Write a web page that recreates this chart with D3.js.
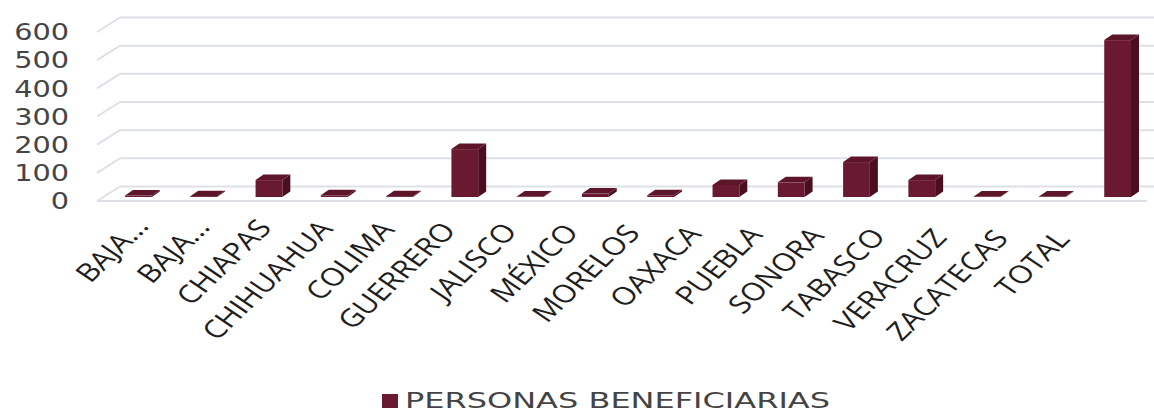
<!DOCTYPE html>
<html>
<head>
<meta charset="utf-8">
<script src="https://cdn.jsdelivr.net/npm/d3@7"></script>
<style>
  body { margin: 0; background: #fff; }
  svg { display: block; }
</style>
</head>
<body>
<div id="chart"></div>
<script>
// data
var estados = ["BAJA...", "BAJA... ", "CHIAPAS", "CHIHUAHUA", "COLIMA", "GUERRERO", "JALISCO", "MÉXICO",
               "MORELOS", "OAXACA", "PUEBLA", "SONORA", "TABASCO", "VERACRUZ", "ZACATECAS", "TOTAL"];
var beneficiarias = [5, 3, 60, 6, 3, 170, 2, 12, 6, 43, 52, 124, 60, 2, 2, 557];
var yTicks = [0, 100, 200, 300, 400, 500, 600];
var serie = "PERSONAS BENEFICIARIAS";

var W = 1154, H = 412;
var depth = [23, -14.5];     // back wall offset of the floor
var barShift = [6, -4];      // where the bars stand on the floor
var barDepth = [8, -5.5];    // thickness of each bar
var stretch = 1.25;          // the original picture is wider than tall

var svg = d3.select("#chart").append("svg")
    .attr("width", W)
    .attr("height", H);

var x = d3.scaleBand()
    .domain(estados)
    .range([97, 1147])
    .paddingInner(0.59)
    .paddingOuter(0.337);

var y = d3.scaleLinear()
    .domain([0, 600])
    .range([201, 32]);

// labels sit on a slightly different spacing (perspective)
var xLab = d3.scalePoint()
    .domain(estados)
    .range([150, 1071]);
var yLab = d3.scalePoint()
    .domain(estados)
    .range([227, 240]);

var grid = svg.append("g");

// back wall lines + left wall diagonals
yTicks.forEach(function (t) {
    grid.append("line")
        .attr("x1", 97).attr("y1", y(t))
        .attr("x2", 97 + depth[0]).attr("y2", y(t) + depth[1])
        .attr("stroke", "#dde1e7").attr("stroke-width", 2);
    grid.append("line")
        .attr("x1", 97 + depth[0]).attr("y1", y(t) + depth[1])
        .attr("x2", W).attr("y2", y(t) + depth[1])
        .attr("stroke", "#dde1e7").attr("stroke-width", 2);
});
// front floor edge
grid.append("line")
    .attr("x1", 97).attr("y1", y(0))
    .attr("x2", 1147).attr("y2", y(0))
    .attr("stroke", "#dde1e7").attr("stroke-width", 2);

// y tick labels
svg.append("g").selectAll("text")
    .data(yTicks)
    .join("text")
    .attr("transform", function (d) { return "translate(69," + y(d) + ") scale(" + stretch + ",1)"; })
    .attr("dy", "0.36em")
    .attr("text-anchor", "end")
    .attr("font-family", "DejaVu Sans")
    .attr("font-size", 23)
    .attr("fill", "#454545")
    .text(function (d) { return d; });

// bars
var bars = svg.append("g").selectAll("g")
    .data(estados)
    .join("g");

function pts(a) { return a.map(function (p) { return p.join(","); }).join(" "); }

bars.each(function (d, i) {
    var g = d3.select(this);
    var x0 = x(d) + barShift[0];
    var x1 = x0 + x.bandwidth();
    var yb = y(0) + barShift[1];
    var yt = y(beneficiarias[i]) + barShift[1];
    var dx = barDepth[0], dy = barDepth[1];
    g.append("polygon")
        .attr("points", pts([[x1, yt], [x1 + dx, yt + dy], [x1 + dx, yb + dy], [x1, yb]]))
        .attr("fill", "#4a0e1f");
    g.append("polygon")
        .attr("points", pts([[x0, yt], [x1, yt], [x1 + dx, yt + dy], [x0 + dx, yt + dy]]))
        .attr("fill", "#5c1529");
    g.append("rect")
        .attr("x", x0)
        .attr("y", yt)
        .attr("width", x.bandwidth())
        .attr("height", yb - yt)
        .attr("fill", "#6a1a30");
});

// category labels
svg.append("g").selectAll("text")
    .data(estados)
    .join("text")
    .attr("transform", function (d) {
        return "translate(" + xLab(d) + "," + yLab(d) + ") scale(" + stretch + ",1) rotate(-50)";
    })
    .attr("text-anchor", "end")
    .attr("font-family", "Open Sans")
    .attr("font-size", 25)
    .attr("fill", "#1e1e1e")
    .text(function (d) { return d.trim(); });

// legend
var leg = svg.append("g");
leg.append("rect")
    .attr("x", 382).attr("y", 394)
    .attr("width", 16).attr("height", 14)
    .attr("fill", "#6a1a30");
leg.append("text")
    .attr("x", 405).attr("y", 408)
    .attr("font-family", "DejaVu Sans")
    .attr("font-size", 21)
    .attr("fill", "#444444")
    .attr("textLength", 425)
    .attr("lengthAdjust", "spacingAndGlyphs")
    .text(serie);
</script>
</body>
</html>
